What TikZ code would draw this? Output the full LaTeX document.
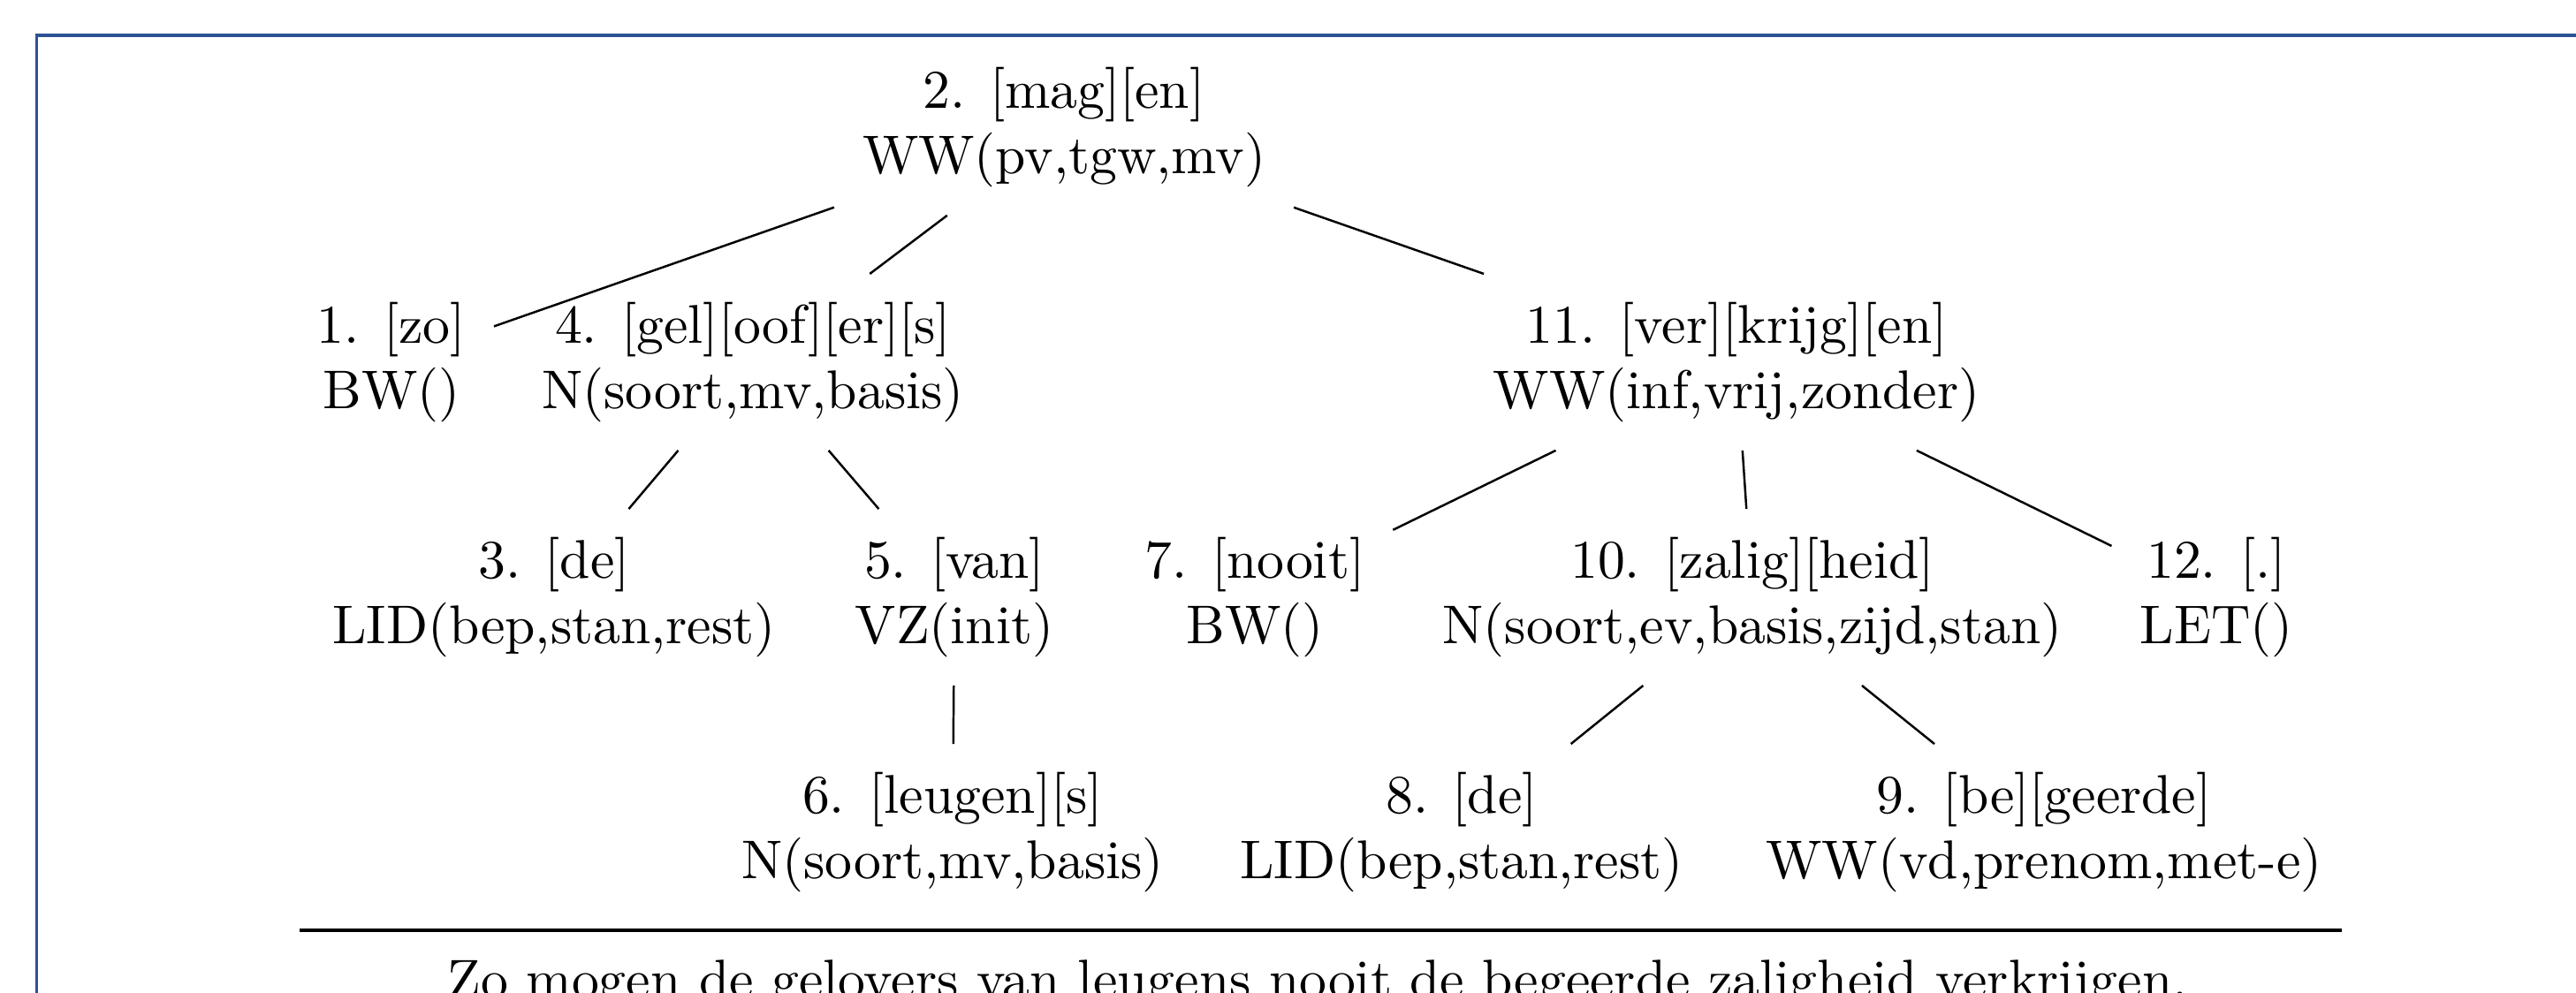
\documentclass[tikz,border=0pt]{standalone}
\usepackage{tikz}
\definecolor{framecol}{RGB}{45,82,148}

\begin{document}
\begin{tikzpicture}
[morph/.style={align=center,inner sep=5pt},
kader/.style={draw=framecol,line width=0.5pt}]
\clip (0,0) rectangle (16.604,-6.402);
\draw[kader] (0.234,-0.228) rectangle (17,-7);
% bovenste rij
\node[morph] (mag) at (6.858,-0.820) {2. [mag][en]\\WW(pv,tgw,mv)};
\node[morph] (zo) at (2.523,-2.335) {1. [zo]\\BW()};
\node[morph] (gel) at (4.853,-2.335) {4. [gel][oof][er][s]\\N(soort,mv,basis)};
\node[morph] (verk) at (11.193,-2.335) {11. [ver][krijg][en]\\WW(inf,vrij,zonder)};
\node[morph] (de) at (3.571,-3.851) {3. [de]\\LID(bep,stan,rest)};
\node[morph] (van) at (6.152,-3.851) {5. [van]\\VZ(init)};
\node[morph] (nooit) at (8.088,-3.851) {7. [nooit]\\BW()};
\node[morph] (zal) at (11.295,-3.851) {10. [zalig][heid]\\N(soort,ev,basis,zijd,stan)};
\node[morph] (punt) at (14.286,-3.851) {12. [.]\\LET()};
\node[morph] (leug) at (6.140,-5.366) {6. [leugen][s]\\N(soort,mv,basis)};
\node[morph] (dee) at (9.421,-5.366) {8. [de]\\LID(bep,stan,rest)};
\node[morph] (beg) at (13.175,-5.366) {9. [be][geerde]\\WW(vd,prenom,met-e)};
% takken
\draw (mag) -- (zo);
\draw (mag) -- (gel);
\draw (mag) -- (verk);
\draw (gel) -- (de);
\draw (gel) -- (van);
\draw (van) -- (leug);
\draw (verk) -- (nooit);
\draw (verk) -- (zal);
\draw (verk) -- (punt);
\draw (zal) -- (dee);
\draw (zal) -- (beg);
% zin onder de lijn
\draw[line width=0.5pt] (1.931,-5.998) -- (15.094,-5.998);
\node[anchor=base] (zin) at (8.493,-6.431) {Zo mogen de gelovers van leugens nooit de begeerde zaligheid verkrijgen.};
\end{tikzpicture}
\end{document}
